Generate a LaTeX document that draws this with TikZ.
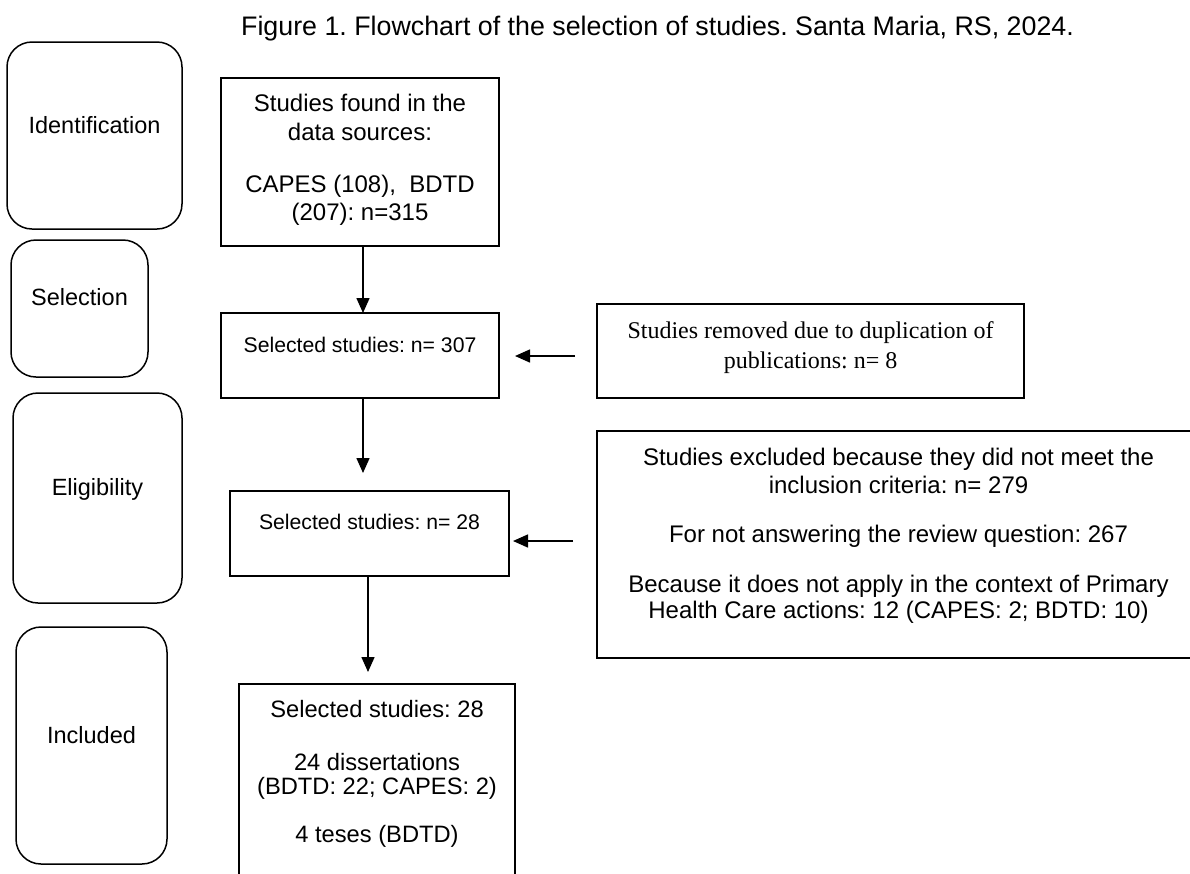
\documentclass[tikz,border=0pt]{standalone}
\usepackage{fontspec}
\setmainfont{Liberation Sans}
\newfontfamily\timesfont{Liberation Serif}
\usetikzlibrary{arrows.meta}
\frenchspacing
\begin{document}
\frenchspacing
\begin{tikzpicture}[x=1pt,y=-1pt,
  stage/.style={draw, line width=1.5pt, rounded corners=25pt, inner sep=0pt, outer sep=0pt},
  flowbox/.style={draw, line width=1.7pt, inner sep=0pt, outer sep=0pt},
  txt/.style={anchor=base, inner sep=0pt, font=\fontsize{24}{28}\selectfont},
  stxt/.style={anchor=base, inner sep=0pt, font=\fontsize{21.2}{25}\selectfont},
  btxt/.style={anchor=base, inner sep=0pt, font=\fontsize{23.7}{28}\selectfont},
  serif/.style={anchor=base, inner sep=0pt, font=\timesfont\fontsize{24}{28}\selectfont},
  arr/.style={-{Triangle[length=15pt,width=13pt]}, line width=1.5pt}
]
\useasboundingbox[fill=white] (0,0) rectangle (1190,873);

% title
\node[anchor=base, inner sep=0pt, font=\fontsize{26.8}{30}\selectfont] (title) at (657.5,35)
  {Figure 1. Flowchart of the selection of studies. Santa Maria, RS, 2024.};

% stage boxes
\node[stage, minimum width=175pt, minimum height=187pt] (ident) at (94.5,135.5) {};
\node[stage, minimum width=137pt, minimum height=137pt] (sel) at (79.5,308.5) {};
\node[stage, minimum width=169pt, minimum height=210pt] (elig) at (97.5,498) {};
\node[stage, minimum width=151pt, minimum height=237pt] (incl) at (91.5,745.5) {};
\node[txt, font=\fontsize{23.5}{28}\selectfont] (tident) at (94.5,133) {Identification};
\node[txt, font=\fontsize{23.5}{28}\selectfont] (tsel) at (79.5,305) {Selection};
\node[txt, font=\fontsize{23.5}{28}\selectfont] (telig) at (97.5,495) {Eligibility};
\node[txt, font=\fontsize{23.5}{28}\selectfont] (tincl) at (91.5,743) {Included};

% main boxes
\node[flowbox, minimum width=278pt, minimum height=168pt] (box1) at (360,162) {};
\node[txt] (t1a) at (360,111) {Studies found in the};
\node[txt] (t1b) at (360,140) {data sources:};
\node[txt] (t1c) at (360,192) {CAPES (108),\ \ BDTD};
\node[txt] (t1d) at (360,220) {(207): n=315};

\node[flowbox, minimum width=278pt, minimum height=85pt] (box2) at (360,355.5) {};
\node[stxt] (t2) at (360,352) {Selected studies: n= 307};

\node[flowbox, minimum width=279pt, minimum height=85pt] (box3) at (369.5,533.5) {};
\node[stxt] (t3) at (369.5,529) {Selected studies: n= 28};

\node[flowbox, minimum width=276pt, minimum height=216pt] (box4) at (377,792) {};
\node[btxt] (t4a) at (377,717) {Selected studies: 28};
\node[btxt] (t4b) at (377,770) {24 dissertations};
\node[btxt] (t4c) at (377,794) {(BDTD: 22; CAPES: 2)};
\node[btxt] (t4d) at (377,842) {4 teses (BDTD)};

% side boxes
\node[flowbox, minimum width=427pt, minimum height=94pt] (rem) at (810.5,351) {};
\node[serif] (tra) at (810.5,338) {Studies removed due to duplication of};
\node[serif] (trb) at (810.5,368) {publications: n= 8};

\node[flowbox, minimum width=603pt, minimum height=227pt] (exc) at (898.5,544.5) {};
\node[txt] (tea) at (898.5,465) {Studies excluded because they did not meet the};
\node[txt] (teb) at (898.5,493) {inclusion criteria: n= 279};
\node[txt] (tec) at (898.5,542) {For not answering the review question: 267};
\node[txt] (ted) at (898.5,592) {Because it does not apply in the context of Primary};
\node[txt] (tee) at (898.5,618) {Health Care actions: 12 (CAPES: 2; BDTD: 10)};

% connectors
\coordinate (a2end) at (363,473);
\coordinate (a3end) at (368,672);
\coordinate (h1s) at (575,356);
\coordinate (h1e) at (515,356);
\coordinate (h2s) at (573,541);
\coordinate (h2e) at (513,541);
\draw[arr] ([xshift=3pt]box1.south) -- ([xshift=3pt]box2.north);
\draw[arr] ([xshift=3pt]box2.south) -- (a2end);
\draw[arr] ([xshift=-1.5pt]box3.south) -- (a3end);
\draw[arr] (h1s) -- (h1e);
\draw[arr] (h2s) -- (h2e);
\end{tikzpicture}
\end{document}
